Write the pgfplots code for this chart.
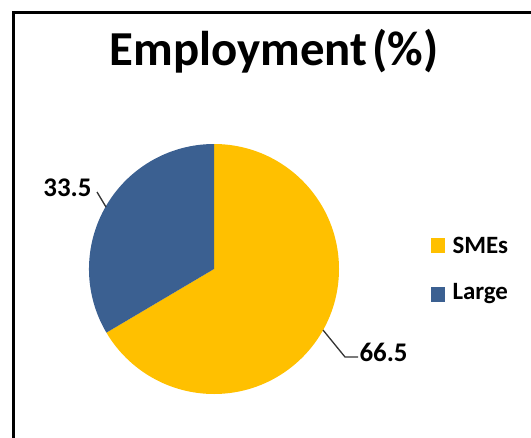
\documentclass[border=0pt]{standalone}
\usepackage{pgfplots}
\usepackage{pgfplotstable}
\pgfplotsset{compat=1.18}
\usepackage{fontspec}
\setmainfont{Carlito}
\definecolor{smes}{HTML}{FFC000}
\definecolor{large}{HTML}{3B6091}

\pgfplotstableread{
label value
SMEs 66.5
Large 33.5
}\piedata

\begin{document}
\begin{tikzpicture}
\pgfplotstablegetelem{0}{value}\of\piedata \let\va\pgfplotsretval
\pgfplotstablegetelem{1}{value}\of\piedata \let\vb\pgfplotsretval
% SMEs go clockwise from 12 o'clock, Large fills the rest
\pgfmathsetmacro\angA{90-3.6*\va}
\begin{axis}[
    width=531bp, height=438bp,
    scale only axis,
    xmin=0, xmax=531, ymin=0, ymax=438,
    y dir=reverse,
    hide axis,
    clip=false,
    font=\bfseries,
    /pgf/number format/assume math mode=true,
]
% outer frame (right and bottom edges are cut off in the reference)
\draw[line width=3bp] (axis cs:13,440) -- (axis cs:13,13) -- (axis cs:533,13);

\node[font=\fontsize{49}{54}\selectfont\bfseries] at (axis cs:274,51) {Employment\hspace{-0.12em} (\%)};

\fill[smes] (axis cs:214,269) -- ++(90:125bp)
    arc[start angle=90, end angle=\angA, radius=125bp] -- cycle;
\fill[large] (axis cs:214,269) -- ++(\angA:125bp)
    arc[start angle=\angA, end angle=-270, radius=125bp] -- cycle;

% data labels with leader lines
\draw[line width=1.3bp, black!80] (axis cs:106,207) -- (axis cs:97,192);
\node[anchor=east, font=\fontsize{27}{30}\selectfont\bfseries] at (axis cs:95,188) {\pgfmathprintnumber[fixed,precision=1,fixed zerofill]{\vb}};
\draw[line width=1.3bp, black!80] (axis cs:323,330) -- (axis cs:345,357) -- (axis cs:358,357);
\node[anchor=west, font=\fontsize{27}{30}\selectfont\bfseries] at (axis cs:356,352) {\pgfmathprintnumber[fixed,precision=1,fixed zerofill]{\va}};

% legend
\fill[smes] (axis cs:431,238) rectangle (axis cs:445,253);
\node[anchor=west, font=\fontsize{25}{28}\selectfont\bfseries] at (axis cs:449,245) {SMEs};
\fill[large] (axis cs:431,287) rectangle (axis cs:445,302);
\node[anchor=west, font=\fontsize{25}{28}\selectfont\bfseries] at (axis cs:449,294) {Large};
\end{axis}
\pgfresetboundingbox
\path[use as bounding box] (current axis.south west) rectangle (current axis.north east);
\end{tikzpicture}
\end{document}
